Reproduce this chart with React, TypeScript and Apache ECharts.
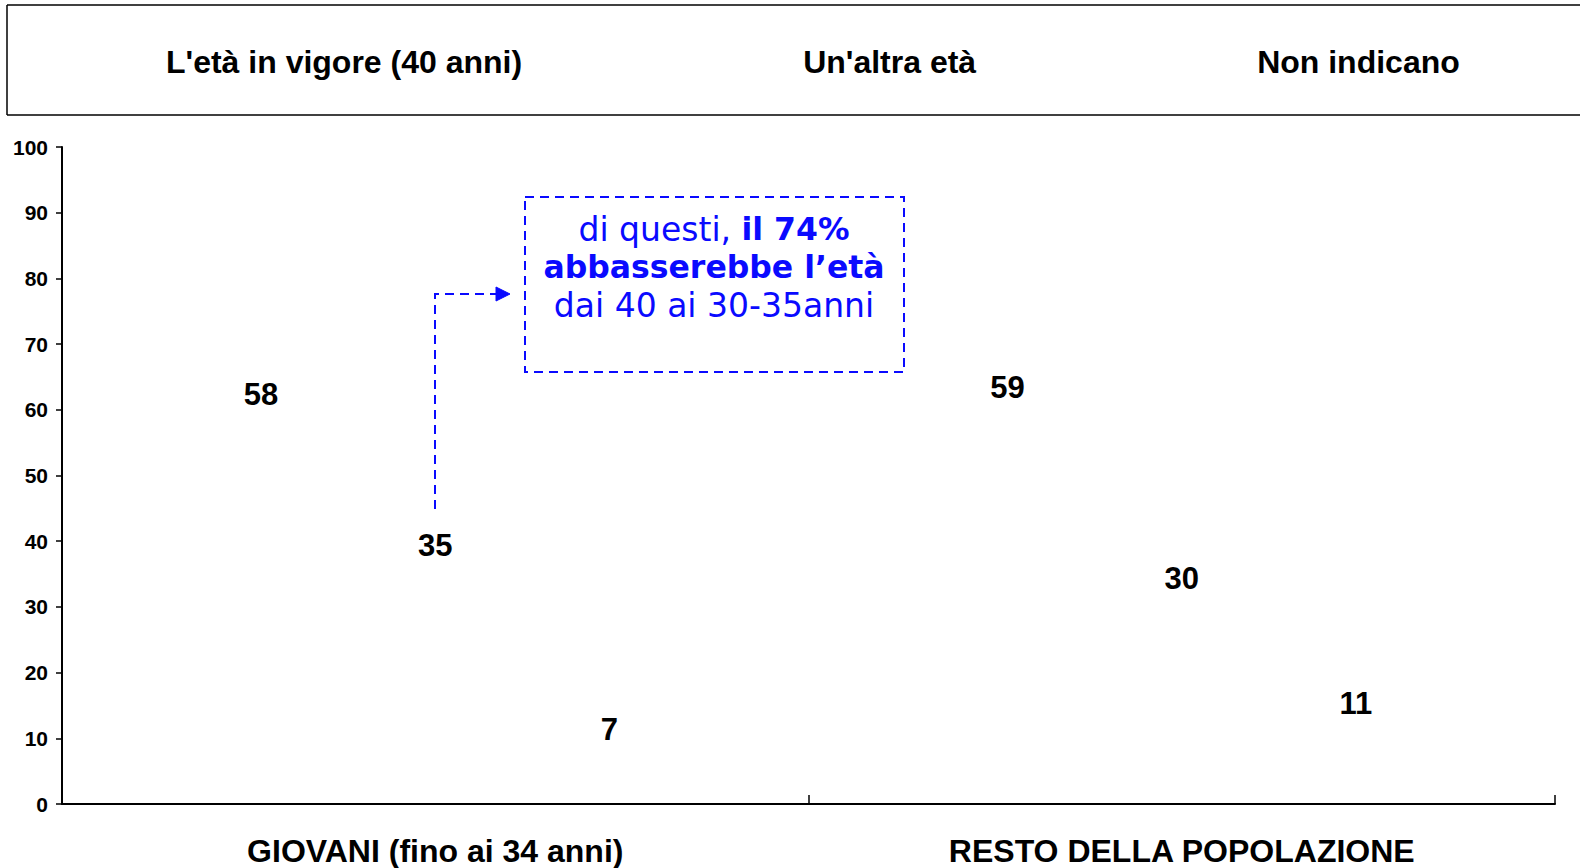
import React, { useEffect, useRef } from "react";
import * as echarts from "echarts";

const categories = ["GIOVANI (fino ai 34 anni)", "RESTO DELLA POPOLAZIONE"];
const seriesNames = ["L'età in vigore (40 anni)", "Un'altra età", "Non indicano"];
const vigore = [58, 59];
const altra = [35, 30];
const nonIndicano = [7, 11];
const yTicks = { min: 0, max: 100, interval: 10 };

const FONT = "'Liberation Sans', Arial, sans-serif";
const VFONT = "'DejaVu Sans', Verdana, sans-serif";
const BLUE = "#0a0aff";

export default function App() {
  const ref = useRef<HTMLDivElement>(null);
  useEffect(() => {
    if (!ref.current) return;
    document.body.style.margin = "0";
    const chart = echarts.init(ref.current, undefined, { renderer: "svg" });
    const values = [vigore, altra, nonIndicano];
    const boxLine = { stroke: "#000", lineWidth: 1.5 };
    chart.setOption({
      animation: false,
      backgroundColor: "#ffffff",
      textStyle: { fontFamily: FONT },
      legend: {
        left: 156,
        top: 41,
        icon: "none",
        itemWidth: 0,
        itemHeight: 0,
        itemGap: 276,
        selectedMode: false,
        textStyle: { fontFamily: FONT, fontWeight: "bold", fontSize: 32, color: "#000" },
        data: seriesNames,
      },
      grid: { left: 62, right: 25, top: 147, bottom: 64, containLabel: false },
      xAxis: {
        type: "category",
        data: categories,
        axisLine: { lineStyle: { color: "#000", width: 2 } },
        axisTick: { show: true, inside: true, length: 9, lineStyle: { color: "#000", width: 1.5 } },
        axisLabel: { fontFamily: FONT, fontWeight: "bold", fontSize: 32, color: "#000", margin: 31 },
      },
      yAxis: {
        type: "value",
        min: yTicks.min,
        max: yTicks.max,
        interval: yTicks.interval,
        splitLine: { show: false },
        axisLine: { show: true, lineStyle: { color: "#000", width: 2 } },
        axisTick: { show: true, length: 6, lineStyle: { color: "#000", width: 1.5 } },
        axisLabel: { fontFamily: FONT, fontWeight: "bold", fontSize: 21, color: "#000", margin: 14 },
      },
      series: seriesNames.map((name, i) => ({
        name,
        type: "bar",
        data: values[i],
        barGap: "0%",
        barCategoryGap: "30%",
        itemStyle: { color: "rgba(255,255,255,0)" },
        label: {
          show: true,
          position: "top",
          distance: 13,
          fontFamily: FONT,
          fontWeight: "bold",
          fontSize: 31,
          color: "#000",
        },
      })),
      graphic: [
        { type: "line", silent: true, shape: { x1: 7, y1: 5, x2: 1580, y2: 5 }, style: boxLine },
        { type: "line", silent: true, shape: { x1: 7, y1: 5, x2: 7, y2: 115 }, style: boxLine },
        { type: "line", silent: true, shape: { x1: 7, y1: 115, x2: 1580, y2: 115 }, style: boxLine },
        {
          type: "rect",
          silent: true,
          shape: { x: 525, y: 197, width: 379, height: 175 },
          style: { fill: "none", stroke: BLUE, lineWidth: 2, lineDash: [9, 6] },
        },
        {
          type: "polyline",
          silent: true,
          shape: { points: [[435, 509], [435, 294], [500, 294]] },
          style: { fill: "none", stroke: BLUE, lineWidth: 2, lineDash: [9, 6] },
        },
        {
          type: "polygon",
          silent: true,
          shape: { points: [[496, 287], [510, 294], [496, 301]] },
          style: { fill: BLUE, stroke: BLUE },
        },
        {
          type: "text",
          silent: true,
          x: 714,
          y: 210,
          style: {
            text: "{n|di questi, }{b|il 74%}\n{b|abbasserebbe l’età}\n{n|dai 40 ai 30-35anni}",
            align: "center",
            verticalAlign: "top",
            fill: BLUE,
            rich: {
              n: { fontFamily: VFONT, fontSize: 33, lineHeight: 38, fill: BLUE },
              b: { fontFamily: VFONT, fontSize: 31.5, fontWeight: "bold", lineHeight: 38, fill: BLUE },
            },
          },
        },
      ],
    });
    return () => chart.dispose();
  }, []);
  return <div ref={ref} style={{ width: 1580, height: 868 }} />;
}
